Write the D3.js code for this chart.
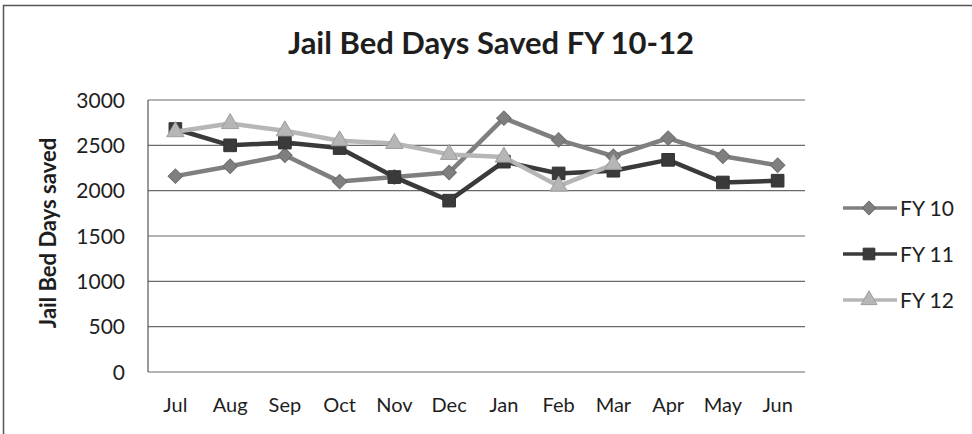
<!DOCTYPE html>
<html>
<meta charset="utf-8">
<style>
  body {
    margin: 0;
    background: #fff;
  }
  text {
    font-family: Lato, 'Open Sans', sans-serif;
    fill: #1e1e1e;
  }
  .grid line {
    stroke: #6a6a6a;
    stroke-width: 1.2;
  }
</style>
<body>
<script src="https://cdnjs.cloudflare.com/ajax/libs/d3/7.8.5/d3.min.js"></script>
<script>

// data
var months = ['Jul', 'Aug', 'Sep', 'Oct', 'Nov', 'Dec', 'Jan', 'Feb', 'Mar', 'Apr', 'May', 'Jun'];
var fy10 = [2160, 2270, 2390, 2100, 2150, 2200, 2800, 2560, 2380, 2580, 2380, 2280];
var fy11 = [2680, 2500, 2530, 2470, 2150, 1890, 2320, 2190, 2220, 2340, 2090, 2110];
var fy12 = [2650, 2740, 2660, 2550, 2520, 2400, 2370, 2050, 2290];
var yTicks = [0, 500, 1000, 1500, 2000, 2500, 3000];

// FY 10 diamond = square turned 45 degrees (Excel style)
var series = [
  { name: 'FY 10', values: fy10, color: '#7f7f7f', symbol: d3.symbolSquare, size: 105, rot: 45 },
  { name: 'FY 11', values: fy11, color: '#3a3a3a', symbol: d3.symbolSquare, size: 160, rot: 0 },
  { name: 'FY 12', values: fy12, color: '#b6b6b6', symbol: d3.symbolTriangle, size: 130, rot: 0 }
];

var width = 972, height = 434;
var plot = { left: 148, right: 805, top: 100, bottom: 372 };

var svg = d3.select('body').append('svg')
  .attr('width', width)
  .attr('height', height);

// outer frame (right and bottom edges fall outside the crop)
svg.append('rect')
  .attr('x', 3.5).attr('y', 5.5)
  .attr('width', 975).attr('height', 440)
  .attr('fill', 'none')
  .attr('stroke', '#555')
  .attr('stroke-width', 1.5);

var x = d3.scaleBand().domain(months).range([plot.left, plot.right]);
var y = d3.scaleLinear().domain([0, 3000]).range([plot.bottom, plot.top]);

// gridlines
svg.append('g').attr('class', 'grid')
  .selectAll('line')
  .data(yTicks)
  .enter().append('line')
  .attr('x1', plot.left).attr('x2', plot.right)
  .attr('y1', function(d) { return y(d); })
  .attr('y2', function(d) { return y(d); });

// left axis line
svg.append('line')
  .attr('x1', plot.left).attr('x2', plot.left)
  .attr('y1', plot.top).attr('y2', plot.bottom)
  .attr('stroke', '#555').attr('stroke-width', 1.2);

// y labels
svg.append('g')
  .selectAll('text')
  .data(yTicks)
  .enter().append('text')
  .attr('x', 125)
  .attr('y', function(d) { return y(d); })
  .attr('dy', '0.36em')
  .attr('text-anchor', 'end')
  .style('font-size', '21px')
  .text(function(d) { return d; });

// x labels
svg.append('g')
  .selectAll('text')
  .data(months)
  .enter().append('text')
  .attr('x', function(d) { return x(d) + x.bandwidth() / 2; })
  .attr('y', 412)
  .attr('text-anchor', 'middle')
  .style('font-size', '20px')
  .text(function(d) { return d; });

// titles
svg.append('text')
  .attr('x', 491).attr('y', 54)
  .attr('text-anchor', 'middle')
  .style('font-size', '31px')
  .style('font-weight', 'bold')
  .text('Jail Bed Days Saved FY 10-12');

svg.append('text')
  .attr('transform', 'translate(56,' + 233 + ') rotate(-90)')
  .attr('text-anchor', 'middle')
  .style('font-size', '22px')
  .style('font-weight', 'bold')
  .text('Jail Bed Days saved');

var line = d3.line()
  .x(function(d, i) { return x(months[i]) + x.bandwidth() / 2; })
  .y(function(d) { return y(d); });

series.forEach(function(s) {
  var g = svg.append('g');
  g.append('path')
    .datum(s.values)
    .attr('d', line)
    .attr('fill', 'none')
    .attr('stroke', s.color)
    .attr('stroke-width', 4.5)
    .attr('stroke-linejoin', 'round');
  g.selectAll('path.pt')
    .data(s.values)
    .enter().append('path')
    .attr('class', 'pt')
    .attr('d', d3.symbol().type(s.symbol).size(s.size))
    .attr('transform', function(d, i) {
      return 'translate(' + (x(months[i]) + x.bandwidth() / 2) + ',' + y(d) + ') rotate(' + s.rot + ')';
    })
    .attr('fill', s.color)
    .attr('stroke', d3.color(s.color).darker(0.4))
    .attr('stroke-width', 1);
});

// legend
var legend = svg.append('g')
  .selectAll('g')
  .data(series)
  .enter().append('g')
  .attr('transform', function(d, i) { return 'translate(843,' + (208 + i * 46) + ')'; });

legend.append('line')
  .attr('x1', 0).attr('x2', 54)
  .attr('stroke', function(d) { return d.color; })
  .attr('stroke-width', 3.5);

legend.append('path')
  .attr('d', function(d) { return d3.symbol().type(d.symbol).size(d.size * 0.85)(); })
  .attr('transform', function(d) { return 'translate(26,0) rotate(' + d.rot + ')'; })
  .attr('fill', function(d) { return d.color; })
  .attr('stroke', function(d) { return d3.color(d.color).darker(0.4); });

legend.append('text')
  .attr('x', 57)
  .attr('dy', '0.36em')
  .style('font-size', '21px')
  .text(function(d) { return d.name; });

</script>
</body>
</html>
